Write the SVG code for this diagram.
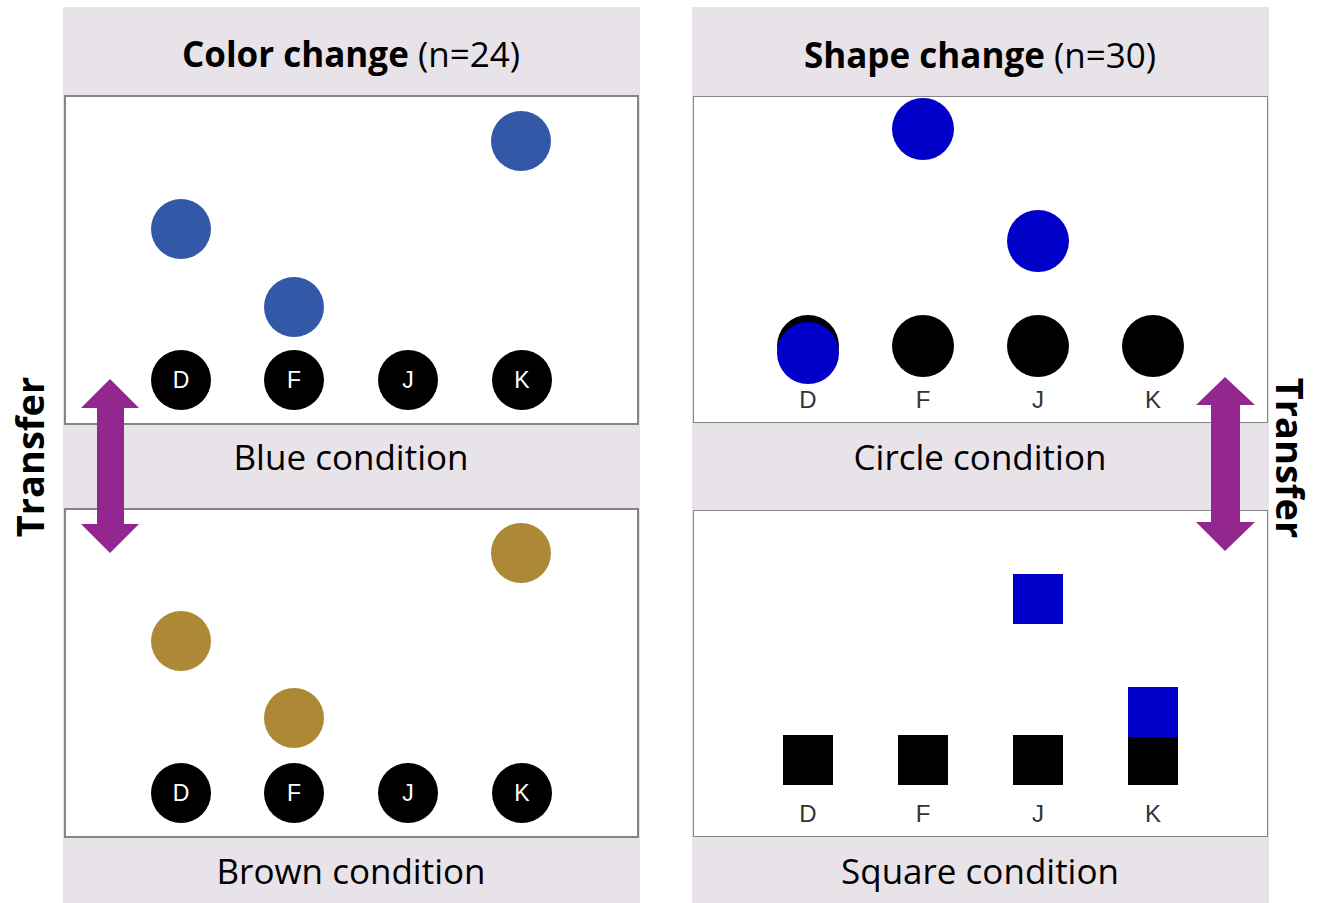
<svg xmlns="http://www.w3.org/2000/svg" width="1317" height="903" viewBox="0 0 1317 903">
<style>
.bg{fill:#E8E3E9}
.box{fill:#fff;stroke:#858585;stroke-width:2}
.box2{fill:#fff;stroke:#858585;stroke-width:1}
.title{font-family:"Open Sans","Noto Sans",sans-serif;font-size:35px;fill:#000;text-anchor:middle}
.cap{font-family:"Open Sans","Noto Sans",sans-serif;font-size:35px;fill:#000;text-anchor:middle}
.key{fill:#000}
.kl{font-family:"Liberation Sans",Arial,sans-serif;font-size:23px;fill:#fff;text-anchor:middle}
.kl2{font-family:"Liberation Sans",Arial,sans-serif;font-size:24px;fill:#333;text-anchor:middle}
.blue{fill:#3358A8}
.brown{fill:#AD8835}
.vb{fill:#0000C8}
.arrow{fill:#93278F}
.tr{font-family:"Open Sans","Noto Sans",sans-serif;font-size:38px;font-weight:bold;fill:#000;text-anchor:middle}
</style>
<g id="color-panel">
<rect class="bg" x="63" y="7" width="577" height="896"/>
<text class="title" x="351" y="67"><tspan font-weight="bold">Color change</tspan> (n=24)</text>
</g>
<g id="blue-condition">
<rect class="box" x="65" y="96" width="573" height="328"/>
<circle class="blue" cx="521" cy="141" r="30"/>
<circle class="blue" cx="181" cy="229" r="30"/>
<circle class="blue" cx="294" cy="307" r="30"/>
<circle class="key" cx="181" cy="380" r="30"/><text class="kl" x="181" y="388">D</text>
<circle class="key" cx="294" cy="380" r="30"/><text class="kl" x="294" y="388">F</text>
<circle class="key" cx="408" cy="380" r="30"/><text class="kl" x="408" y="388">J</text>
<circle class="key" cx="522" cy="380" r="30"/><text class="kl" x="522" y="388">K</text>
<text class="cap" x="351" y="470">Blue condition</text>
</g>
<g id="brown-condition">
<rect class="box" x="65" y="509" width="573" height="328"/>
<circle class="brown" cx="521" cy="553" r="30"/>
<circle class="brown" cx="181" cy="641" r="30"/>
<circle class="brown" cx="294" cy="718" r="30"/>
<circle class="key" cx="181" cy="793" r="30"/><text class="kl" x="181" y="801">D</text>
<circle class="key" cx="294" cy="793" r="30"/><text class="kl" x="294" y="801">F</text>
<circle class="key" cx="408" cy="793" r="30"/><text class="kl" x="408" y="801">J</text>
<circle class="key" cx="522" cy="793" r="30"/><text class="kl" x="522" y="801">K</text>
<text class="cap" x="351" y="884">Brown condition</text>
</g>
<g id="shape-panel">
<rect class="bg" x="692" y="7" width="577" height="896"/>
<text class="title" x="980" y="68"><tspan font-weight="bold">Shape change</tspan> (n=30)</text>
</g>
<g id="circle-condition">
<rect class="box2" x="693.5" y="96.5" width="574" height="326"/>
<circle class="vb" cx="923" cy="129" r="31"/>
<circle class="vb" cx="1038" cy="241" r="31"/>
<circle class="key" cx="808" cy="346" r="31"/>
<circle class="vb" cx="808" cy="353" r="31"/>
<circle class="key" cx="923" cy="346" r="31"/>
<circle class="key" cx="1038" cy="346" r="31"/>
<circle class="key" cx="1153" cy="346" r="31"/>
<text class="kl2" x="808" y="408">D</text>
<text class="kl2" x="923" y="408">F</text>
<text class="kl2" x="1038" y="408">J</text>
<text class="kl2" x="1153" y="408">K</text>
<text class="cap" x="980" y="470">Circle condition</text>
</g>
<g id="square-condition">
<rect class="box2" x="693.5" y="510.5" width="574" height="326"/>
<rect class="vb" x="1013" y="574" width="50" height="50"/>
<rect class="vb" x="1128" y="687" width="50" height="50"/>
<rect class="key" x="783" y="735" width="50" height="50"/>
<rect class="key" x="898" y="735" width="50" height="50"/>
<rect class="key" x="1013" y="735" width="50" height="50"/>
<rect class="key" x="1128" y="737" width="50" height="48"/>
<text class="kl2" x="808" y="822">D</text>
<text class="kl2" x="923" y="822">F</text>
<text class="kl2" x="1038" y="822">J</text>
<text class="kl2" x="1153" y="822">K</text>
<text class="cap" x="980" y="884">Square condition</text>
</g>
<g id="connectors">
<path class="arrow" d="M110,379 L139,408 L124,408 L124,524 L139,524 L110,553 L81,524 L97,524 L97,408 L81,408 Z"/>
<path class="arrow" d="M1225,377 L1255,405 L1240,405 L1240,522 L1255,522 L1225,551 L1196,522 L1211,522 L1211,405 L1196,405 Z"/>
</g>
<g id="labels">
<text class="tr" transform="translate(44,457) rotate(-90)">Transfer</text>
<text class="tr" transform="translate(1276,458) rotate(90)">Transfer</text>
</g>
</svg>
